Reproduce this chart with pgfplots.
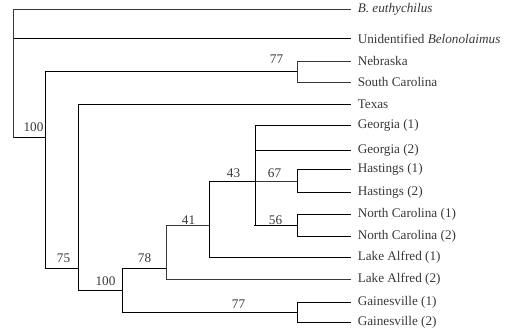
\documentclass[border=0pt]{standalone}
\usepackage{pgfplots}
\pgfplotsset{compat=1.18}
\usepackage{fontspec}
\setmainfont{Liberation Serif}
\definecolor{tree}{HTML}{383838}
\begin{document}
\begin{tikzpicture}[x=0.75pt,y=0.75pt]
\begin{axis}[
  at={(0,0)}, anchor=south west,
  scale only axis, width=379.5pt, height=245.25pt,
  xmin=-0.5, xmax=505.5, ymin=-0.5, ymax=326.5, y dir=reverse,
  hide axis, clip=false,
  cycle list={{draw=tree, solid, line width=0.8pt, mark=none}},
]
% root
\addplot coordinates {(350,9) (13,9) (13,138)};
\addplot coordinates {(13,38) (350,38)};
\addplot coordinates {(13,137) (45,137)};
% node 100 (x=45)
\addplot coordinates {(297,71) (45,71) (45,268) (78,268)};
\addplot coordinates {(350,61) (297,61) (297,82) (350,82)};
% node 75 (x=78)
\addplot coordinates {(350,104) (78,104) (78,290) (122,290)};
% node 100 (x=122)
\addplot coordinates {(166,268) (122,268) (122,312) (297,312)};
\addplot coordinates {(350,302) (297,302) (297,322) (350,322)};
% node 78 (x=166)
\addplot coordinates {(209,225) (166,225) (166,279) (350,279)};
% node 41 (x=209)
\addplot coordinates {(255,181) (209,181) (209,257) (350,257)};
% node 43 (x=255)
\addplot coordinates {(350,125) (255,125) (255,225) (297,225)};
\addplot coordinates {(255,150) (350,150)};
\addplot coordinates {(255,181) (297,181)};
\addplot coordinates {(253,225) (255,225)};
% Hastings, North Carolina
\addplot coordinates {(350,169) (297,169) (297,192) (350,192)};
\addplot coordinates {(350,214) (297,214) (297,236) (350,236)};
% tip labels
\begin{scope}[every node/.style={anchor=west, inner sep=0pt, font=\fontsize{9.9pt}{11pt}\selectfont, text=tree}]
\node at (axis cs:357,9) {\textit{B. euthychilus}};
\node at (axis cs:357,38) {Unidentified \textit{Belonolaimus}};
\node at (axis cs:357,61) {Nebraska};
\node at (axis cs:357,82) {South Carolina};
\node at (axis cs:357,104) {Texas};
\node at (axis cs:357,125) {Georgia (1)};
\node at (axis cs:357,150) {Georgia (2)};
\node at (axis cs:357,169) {Hastings (1)};
\node at (axis cs:357,192) {Hastings (2)};
\node at (axis cs:357,214) {North Carolina (1)};
\node at (axis cs:357,236) {North Carolina (2)};
\node at (axis cs:357,257) {Lake Alfred (1)};
\node at (axis cs:357,279) {Lake Alfred (2)};
\node at (axis cs:357,302) {Gainesville (1)};
\node at (axis cs:357,322) {Gainesville (2)};
\end{scope}
% support values
\begin{scope}[every node/.style={anchor=center, inner sep=0pt, font=\fontsize{9.9pt}{11pt}\selectfont, text=tree}]
\node at (axis cs:276,59) {77};
\node at (axis cs:33,127) {100};
\node at (axis cs:63,258) {75};
\node at (axis cs:105,281) {100};
\node at (axis cs:144,258) {78};
\node at (axis cs:188,220) {41};
\node at (axis cs:233,173) {43};
\node at (axis cs:274,173) {67};
\node at (axis cs:275,220) {56};
\node at (axis cs:238,304) {77};
\end{scope}
\end{axis}
\useasboundingbox (0,0) rectangle (506,327);
\end{tikzpicture}
\end{document}
